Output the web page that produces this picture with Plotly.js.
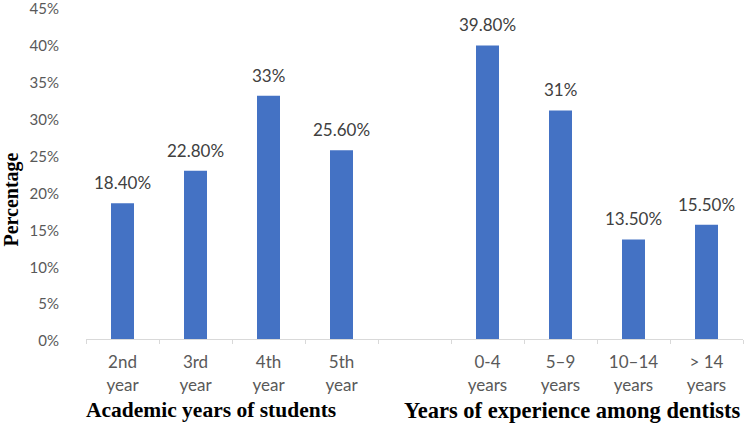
<!DOCTYPE html>
<html>
<head>
<meta charset="utf-8">
<script src="https://cdn.plot.ly/plotly-3.0.1.min.js"></script>
<style>html,body{margin:0;padding:0;background:#fff;}#chart{width:744px;height:424px;}</style>
</head>
<body>
<div id="chart"></div>
<script>
var categories = ["2nd<br>year", "3rd<br>year", "4th<br>year", "5th<br>year", " ", "0-4<br>years", "5\u20139<br>years", "10\u201314<br>years", "> 14<br>years"];
var values = [18.4, 22.8, 33, 25.6, null, 39.8, 31, 13.5, 15.5];
var valueLabels = ["18.40%", "22.80%", "33%", "25.60%", "", "39.80%", "31%", "13.50%", "15.50%"];
var groupTitles = ["Academic years of students", "Years of experience among dentists"];
var yTitle = "Percentage";
var yTickVals = [0, 5, 10, 15, 20, 25, 30, 35, 40, 45];
var yTickText = ["0%", "5%", "10%", "15%", "20%", "25%", "30%", "35%", "40%", "45%"];

var sansFont = "Lato, 'Open Sans', sans-serif";
var serifFont = "'Liberation Serif', 'Times New Roman', serif";

var trace = {
  type: "bar",
  x: categories,
  y: values,
  cliponaxis: false,
  marker: {color: "#4472C4"},
  hoverinfo: "none"
};

var labelAnnotations = [];
for (var i = 0; i < categories.length; i++) {
  if (values[i] === null) continue;
  labelAnnotations.push({
    x: categories[i], y: values[i], xref: "x", yref: "y",
    text: valueLabels[i], showarrow: false, yanchor: "bottom", yshift: 8,
    font: {family: sansFont, size: 17, color: "#404040"}
  });
}

var titleAnnotations = [
  {text: "<b>" + groupTitles[0] + "</b>", xref: "paper", yref: "paper", x: 0.19, xanchor: "center", y: 0, yshift: -71, yanchor: "middle", showarrow: false,
   font: {family: serifFont, size: 21.5, color: "#000"}},
  {text: "<b>" + groupTitles[1] + "</b>", xref: "paper", yref: "paper", x: 0.74, xanchor: "center", y: 0, yshift: -71, yanchor: "middle", showarrow: false,
   font: {family: serifFont, size: 22.5, color: "#000"}},
  {text: "<b>" + yTitle + "</b>", xref: "paper", yref: "paper", x: 0, xshift: -74, xanchor: "center", y: 0.42, yanchor: "middle", textangle: -90, showarrow: false,
   font: {family: serifFont, size: 20, color: "#000"}}
];

var layout = {
  width: 744, height: 424,
  margin: {l: 86, r: 1, t: 7, b: 85},
  paper_bgcolor: "#fff", plot_bgcolor: "#fff",
  bargap: 0.685,
  showlegend: false,
  font: {family: sansFont, color: "#595959"},
  xaxis: {
    type: "category",
    tickson: "boundaries",
    ticks: "outside", ticklen: 4, tickcolor: "#d9d9d9",
    ticklabelstandoff: 8,
    showline: true, linecolor: "#d9d9d9", linewidth: 1,
    showgrid: false, zeroline: false,
    tickfont: {size: 17, color: "#595959"},
    fixedrange: true
  },
  yaxis: {
    range: [0, 45.02],
    tickvals: yTickVals, ticktext: yTickText,
    showgrid: false, zeroline: false, showline: false,
    ticks: "", ticklabelstandoff: 26, ticklabeloverflow: "allow", ticklabelshift: 2,
    tickfont: {size: 15, color: "#595959"},
    fixedrange: true
  },
  annotations: labelAnnotations.concat(titleAnnotations)
};

Plotly.newPlot("chart", [trace], layout, {displayModeBar: false, staticPlot: true});
</script>
</body>
</html>
